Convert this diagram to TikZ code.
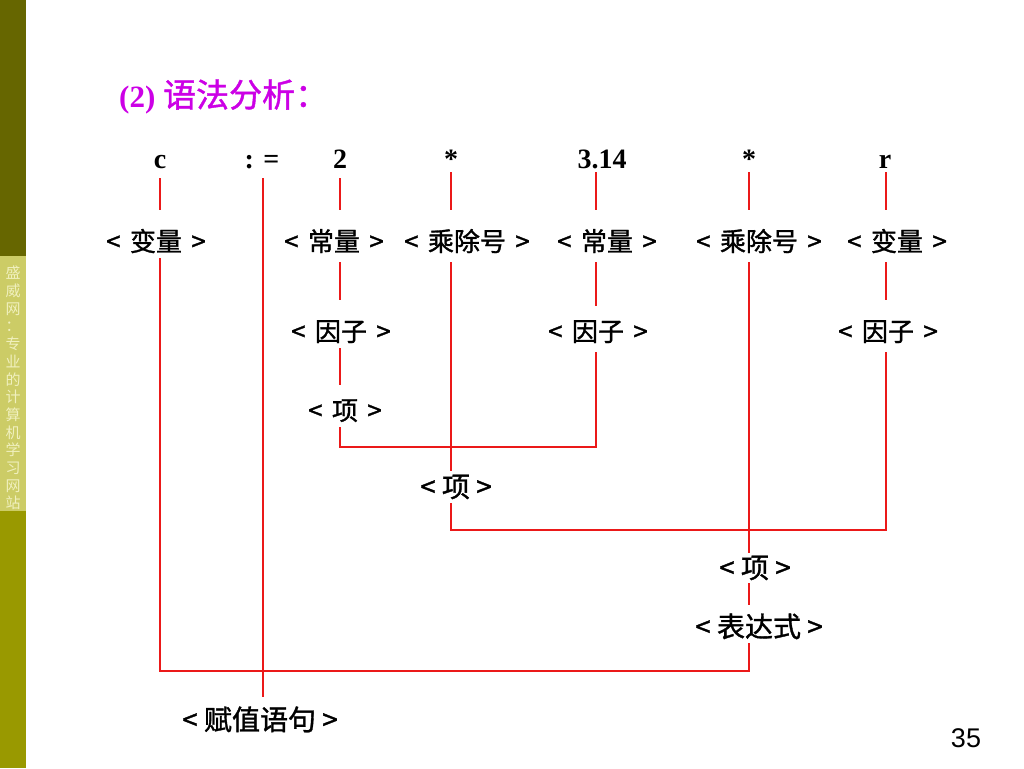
\documentclass[tikz,border=0pt]{standalone}
\usepackage{fontspec}
\setmainfont{Liberation Serif}
\newfontfamily\cjk{Noto Sans CJK SC}[FakeBold=1.2]
\newfontfamily\cjkside{Noto Sans CJK SC}
\newfontfamily\arialf{Liberation Sans}
\usetikzlibrary{calc}
\definecolor{olivedark}{RGB}{102,102,0}
\definecolor{oliveband}{RGB}{204,204,102}
\definecolor{olivelow}{RGB}{153,153,0}
\definecolor{sidetext}{RGB}{240,240,190}
\definecolor{titlepurple}{RGB}{204,0,230}
\definecolor{linered}{RGB}{235,25,25}
\newcommand{\gp}{\hspace{0.36em}}
\begin{document}
\begin{tikzpicture}[x=1pt,y=-1pt,
  tok/.style={font=\fontsize{28}{30}\selectfont\bfseries, inner sep=0pt, text height=19.6pt, text depth=0pt},
  lab/.style={font=\cjk\fontsize{26}{30}\selectfont, inner sep=0pt, text height=22pt, text depth=4pt},
  labc/.style={font=\cjk\fontsize{28}{32}\selectfont, inner sep=0pt, text height=24pt, text depth=4pt},
  tree/.style={draw=linered, line width=1.3pt}]
\useasboundingbox (0,0) rectangle (1024,768);
\fill[white] (0,0) rectangle (1024,768);
% sidebar
\fill[olivedark] (0,0) rectangle (26,256);
\fill[oliveband] (0,256) rectangle (26,511);
\fill[olivelow] (0,511) rectangle (26,768);
\node[anchor=north, inner sep=0pt, align=center, text=sidetext, font=\cjkside\fontsize{15}{17.7}\selectfont] (side) at (13,266)
  {盛\\威\\网\\：\\专\\业\\的\\计\\算\\机\\学\\习\\网\\站};
% title
\node[anchor=base west, inner sep=0pt, text=titlepurple] (title) at (119,107)
  {\fontsize{31}{34}\selectfont\bfseries (2) \cjk\mdseries\fontsize{33}{36}\selectfont 语法分析：};
% column coordinates
\coordinate (xa) at (160,0);
\coordinate (xb) at (263,0);
\coordinate (xd) at (340,0);
\coordinate (xe) at (451,0);
\coordinate (xf) at (596,0);
\coordinate (xg) at (749,0);
\coordinate (xh) at (886,0);
\coordinate (hb) at (0,671);
\coordinate (h1) at (0,447);
\coordinate (h2) at (0,530);
% tokens
\node[tok] (c) at (160,159) {c};
\node[tok] (asg) at (262,159) {: =};
\node[tok] (two) at (340,159) {2};
\node[tok] (m1tok) at (451,159) {*};
\node[tok] (pi) at (602,159) {3.14};
\node[tok] (m2tok) at (749,159) {*};
\node[tok] (r) at (885,159) {r};
% row 2
\node[lab] (v1) at (156,242) {<\gp 变量\gp >};
\node[lab] (k1) at (334,242) {<\gp 常量\gp >};
\node[lab] (m1) at (467,242) {<\gp 乘除号\gp >};
\node[lab] (k2) at (607,242) {<\gp 常量\gp >};
\node[lab] (m2) at (759,242) {<\gp 乘除号\gp >};
\node[lab] (v2) at (897,242) {<\gp 变量\gp >};
% row 3
\node[lab] (f1) at (341,332) {<\gp 因子\gp >};
\node[lab] (f2) at (598,332) {<\gp 因子\gp >};
\node[lab] (f3) at (888,332) {<\gp 因子\gp >};
% lower
\node[lab] (t1) at (345,411) {<\gp 项\gp >};
\node[labc] (t2) at (456,487) {< 项 >};
\node[labc] (t3) at (755,568) {< 项 >};
\node[labc] (ex) at (759,627) {< 表达式 >};
\node[labc] (fz) at (260,720) {< 赋值语句 >};
\node[anchor=base, inner sep=0pt, font=\arialf\fontsize{27}{30}\selectfont] (pg) at (966,747) {35};
% connectors
\draw[tree] ($(c.center -| xa)+(0,19)$) -- ($(v1.center -| xa)+(0,-32)$);
\draw[tree] ($(asg.center -| xb)+(0,19)$) -- ($(fz.center -| xb)+(0,-23)$);
\draw[tree] ($(two.center -| xd)+(0,19)$) -- ($(k1.center -| xd)+(0,-32)$);
\draw[tree] ($(m1tok.center -| xe)+(0,13)$) -- ($(m1.center -| xe)+(0,-32)$);
\draw[tree] ($(pi.center -| xf)+(0,13)$) -- ($(k2.center -| xf)+(0,-32)$);
\draw[tree] ($(m2tok.center -| xg)+(0,13)$) -- ($(m2.center -| xg)+(0,-32)$);
\draw[tree] ($(r.center -| xh)+(0,13)$) -- ($(v2.center -| xh)+(0,-32)$);
\draw[tree] ($(v1.center -| xa)+(0,16)$) -- (xa |- hb) -| ($(ex.center -| xg)+(0,16)$);
\draw[tree] ($(k1.center -| xd)+(0,20)$) -- ($(f1.center -| xd)+(0,-32)$);
\draw[tree] ($(f1.center -| xd)+(0,16)$) -- ($(t1.center -| xd)+(0,-26)$);
\draw[tree] ($(t1.center -| xd)+(0,16)$) -- (xd |- h1) -| ($(f2.center -| xf)+(0,20)$);
\draw[tree] ($(m1.center -| xe)+(0,20)$) -- ($(t2.center -| xe)+(0,-16)$);
\draw[tree] ($(t2.center -| xe)+(0,16)$) -- (xe |- h2) -| ($(f3.center -| xh)+(0,20)$);
\draw[tree] ($(k2.center -| xf)+(0,20)$) -- ($(f2.center -| xf)+(0,-26)$);
\draw[tree] ($(m2.center -| xg)+(0,20)$) -- ($(t3.center -| xg)+(0,-15)$);
\draw[tree] ($(v2.center -| xh)+(0,20)$) -- ($(f3.center -| xh)+(0,-32)$);
\draw[tree] ($(t3.center -| xg)+(0,15)$) -- ($(ex.center -| xg)+(0,-22)$);
\end{tikzpicture}
\end{document}
